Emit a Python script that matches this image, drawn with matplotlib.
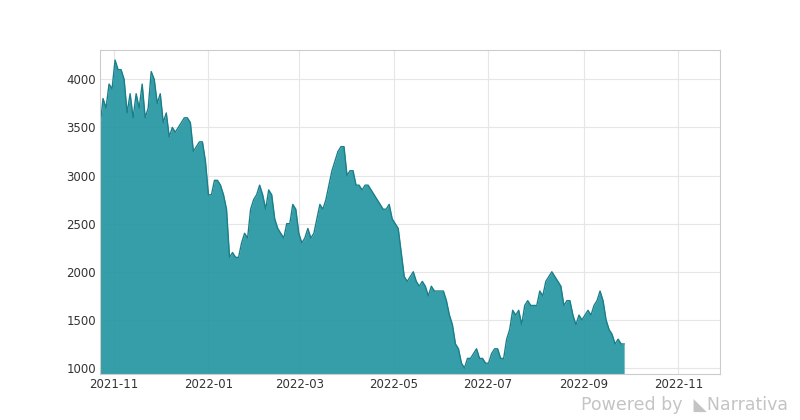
import matplotlib
matplotlib.use("Agg")
import matplotlib.pyplot as plt
import matplotlib.dates as mdates
import pandas as pd

values = [3500,3800,3700,3950,3900,4200,4100,4100,4000,3650,3850,3600,3850,3700,3950,3600,3700,4080,4000,3750,
3850,3550,3650,3400,3500,3450,3500,3550,3600,3600,3550,3250,3300,3350,3350,3150,2800,2800,2950,2950,
2900,2800,2650,2150,2200,2150,2150,2300,2400,2350,2650,2750,2800,2900,2800,2650,2850,2800,2550,2450,
2400,2350,2500,2500,2700,2650,2400,2300,2350,2450,2350,2400,2550,2700,2650,2750,2900,3050,3150,3250,
3300,3300,3000,3050,3050,2900,2900,2850,2900,2900,2850,2800,2750,2700,2650,2650,2700,2550,2500,2450,
2200,1950,1900,1950,2000,1900,1850,1900,1850,1750,1850,1800,1800,1800,1800,1700,1550,1450,1250,1200,
1050,1000,1100,1100,1150,1200,1100,1100,1050,1050,1150,1200,1200,1100,1100,1300,1400,1600,1550,1600,
1450,1650,1700,1650,1650,1650,1800,1750,1900,1950,2000,1950,1900,1850,1650,1700,1700,1550,1450,1550,
1500,1550,1600,1550,1650,1700,1800,1700,1500,1400,1350,1250,1300,1250,1250]
dates = pd.date_range("2021-10-23", "2022-09-27", periods=len(values))

fig = plt.figure(figsize=(8, 4.2), dpi=100)
ax = fig.add_axes([0.125, 0.11, 0.775, 0.77])
ax.fill_between(dates, 0, values, color="#2596a1", alpha=0.92, linewidth=0)
ax.plot(dates, values, color="#1b7f8a", linewidth=1)
ax.set_ylim(940, 4300)
ax.set_xlim(pd.Timestamp("2021-10-23"), pd.Timestamp("2022-11-28"))
ax.set_yticks([1000, 1500, 2000, 2500, 3000, 3500, 4000])
ax.xaxis.set_major_locator(mdates.MonthLocator(bymonth=[1,3,5,7,9,11]))
ax.xaxis.set_major_formatter(mdates.DateFormatter("%Y-%m"))
ax.grid(True, color="#e6e6e6", linewidth=0.8)
ax.set_axisbelow(True)
for s in ax.spines.values():
    s.set_color("#cccccc")
ax.tick_params(colors="#333333", labelsize=8.5, length=0, pad=3)
fig.text(0.985, 0.015, "Powered by  \u25e3Narrativa", ha="right", va="bottom", fontsize=12.5, color="#c4c4c4")
fig.savefig("out.png")
